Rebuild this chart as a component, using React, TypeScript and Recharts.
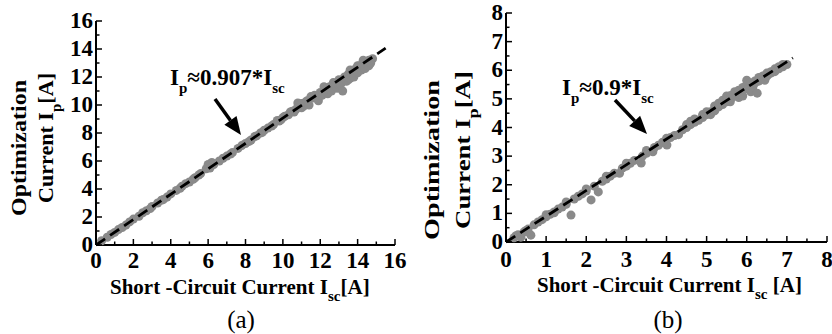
import { ScatterChart, Scatter, XAxis, YAxis, ZAxis } from "recharts";

const FONT = '"Liberation Serif", "Times New Roman", serif';
const GRAY = "#8a8a8a";

// (a) measured points
const iscA = [
  0.3, 0.6, 0.8, 1.0, 1.2, 1.4, 1.6, 1.8, 2.0, 2.3, 2.5, 2.7, 2.9, 3.0, 3.3,
  3.5, 3.6, 3.8, 4.0, 4.3, 4.5, 4.6, 4.8, 5.0, 5.2, 5.3, 5.5, 5.6, 5.9, 6.0,
  6.1, 6.2, 6.3, 6.6, 6.8, 7.0, 7.2, 7.3, 7.6, 7.8, 8.0, 8.2, 8.3, 8.5, 8.6,
  8.8, 8.9, 9.0, 9.2, 9.4, 9.5, 9.7, 9.8, 9.9, 10.0, 10.1, 10.3, 10.4, 10.5,
  10.6, 10.7, 10.8, 10.9, 11.0, 11.0, 11.1, 11.2, 11.3, 11.4, 11.5, 11.6,
  11.7, 11.8, 11.9, 12.0, 12.0, 12.1, 12.2, 12.3, 12.4, 12.5, 12.6, 12.7,
  12.8, 12.9, 13.0, 13.0, 13.1, 13.2, 13.3, 13.4, 13.5, 13.5, 13.6, 13.6,
  13.7, 13.8, 13.9, 14.0, 14.0, 14.1, 14.2, 14.3, 14.3, 14.4, 14.4, 14.5,
  14.6, 14.6, 14.7, 14.8,
];
const ipA = [
  0.3, 0.55, 0.75, 0.9, 1.1, 1.25, 1.42, 1.65, 1.85, 2.05, 2.3, 2.45, 2.6,
  2.75, 3.0, 3.2, 3.25, 3.42, 3.65, 3.9, 4.05, 4.2, 4.38, 4.5, 4.7, 4.8, 5.0,
  5.1, 5.45, 5.75, 5.5, 5.9, 5.75, 6.0, 6.2, 6.35, 6.5, 6.6, 6.9, 7.1, 7.25,
  7.4, 7.5, 7.75, 7.8, 8.0, 8.05, 8.2, 8.35, 8.5, 8.6, 8.9, 8.85, 8.95, 9.1,
  9.2, 9.3, 9.5, 9.55, 9.5, 9.7, 10.15, 9.85, 10.1, 9.8, 9.9, 10.2, 10.3,
  10.0, 10.6, 10.5, 10.7, 10.6, 10.3, 10.9, 10.7, 10.7, 11.3, 11.1, 10.8,
  11.3, 11.0, 11.6, 11.5, 11.2, 11.8, 11.4, 11.5, 11.0, 12.0, 11.7, 12.2,
  11.8, 11.9, 12.5, 12.3, 12.0, 12.6, 12.3, 12.8, 12.8, 12.5, 12.9, 13.2,
  12.6, 13.0, 13.1, 12.8, 13.2, 13.0, 13.3,
];
const fitIscA = [0, 15.5];
const fitIpA = [0, 14.06];

// (b) measured points
const iscB = [
  0.2, 0.25, 0.3, 0.37, 0.45, 0.5, 0.55, 0.62, 0.7, 0.8, 0.9, 1.0, 1.0, 1.1,
  1.2, 1.2, 1.3, 1.4, 1.5, 1.5, 1.62, 1.7, 1.8, 1.9, 2.0, 2.0, 2.12, 2.2,
  2.3, 2.4, 2.5, 2.5, 2.6, 2.7, 2.83, 2.9, 3.0, 3.0, 3.1, 3.2, 3.37, 3.4,
  3.5, 3.5, 3.66, 3.7, 3.8, 3.9, 4.0, 4.01, 4.1, 4.2, 4.3, 4.4, 4.5, 4.5,
  4.6, 4.6, 4.7, 4.7, 4.8, 4.9, 4.9, 5.0, 5.0, 5.1, 5.1, 5.2, 5.2, 5.2, 5.3,
  5.3, 5.4, 5.4, 5.5, 5.5, 5.5, 5.59, 5.6, 5.6, 5.7, 5.7, 5.8, 5.8, 5.8, 5.9,
  5.9, 6.0, 6.0, 6.0, 6.05, 6.1, 6.1, 6.15, 6.2, 6.2, 6.26, 6.3, 6.3, 6.4,
  6.4, 6.45, 6.5, 6.5, 6.53, 6.6, 6.6, 6.7, 6.7, 6.8, 6.8, 6.9, 6.9, 7.0,
];
const ipB = [
  0.15, 0.22, 0.25, 0.17, 0.35, 0.4, 0.45, 0.24, 0.6, 0.7, 0.78, 0.88, 0.95,
  0.97, 1.05, 1.02, 1.15, 1.22, 1.32, 1.4, 0.94, 1.5, 1.6, 1.68, 1.78, 1.85,
  1.47, 1.95, 1.75, 2.12, 2.2, 2.3, 2.3, 2.4, 2.4, 2.58, 2.65, 2.75, 2.75,
  2.85, 2.76, 3.0, 3.1, 3.2, 3.15, 3.3, 3.38, 3.48, 3.62, 3.39, 3.65, 3.72,
  3.75, 3.92, 4.0, 4.1, 4.1, 4.22, 4.18, 4.3, 4.25, 4.35, 4.45, 4.45, 4.55,
  4.45, 4.55, 4.58, 4.62, 4.75, 4.72, 4.85, 4.8, 4.95, 4.9, 5.05, 5.1, 4.9,
  5.0, 5.12, 5.1, 5.25, 5.05, 5.18, 5.3, 5.1, 5.4, 5.35, 5.5, 5.65, 5.42,
  5.25, 5.55, 5.4, 5.55, 5.62, 5.2, 5.62, 5.75, 5.7, 5.8, 5.65, 5.8, 5.9,
  5.84, 5.9, 5.95, 5.95, 6.05, 6.05, 6.12, 6.12, 6.2, 6.2,
];
const fitIscB = [0, 7.15];
const fitIpB = [0, 6.43];

const ticksA = [0, 1, 2, 3, 4, 5, 6, 7, 8, 9, 10, 11, 12, 13, 14, 15, 16];
const ticksB = [0, 0.5, 1, 1.5, 2, 2.5, 3, 3.5, 4, 4.5, 5, 5.5, 6, 6.5, 7, 7.5, 8];

const zip = (xs: number[], ys: number[]) => xs.map((x, i) => ({ x, y: ys[i] }));

const isMajor = (v: number, every: number) =>
  Math.abs(v / every - Math.round(v / every)) < 1e-6;

const makeXTick = (every: number, dy: number) => (props: any) => {
  const { x, y, payload } = props;
  const major = isMajor(payload.value, every);
  return (
    <g>
      <line x1={x} x2={x} y1={y} y2={y - (major ? 6 : 3.5)} stroke="#000" strokeWidth={1.5} />
      {major && (
        <text x={x} y={y + dy} textAnchor="middle" fontFamily={FONT} fontWeight="bold" fontSize={23} fill="#000">
          {payload.value}
        </text>
      )}
    </g>
  );
};

const makeYTick = (every: number) => (props: any) => {
  const { x, y, payload } = props;
  const major = isMajor(payload.value, every);
  return (
    <g>
      <line x1={x} x2={x + (major ? 6 : 3.5)} y1={y} y2={y} stroke="#000" strokeWidth={1.5} />
      {major && (
        <text x={x - 3} y={y + 7} textAnchor="end" fontFamily={FONT} fontWeight="bold" fontSize={23} fill="#000">
          {payload.value}
        </text>
      )}
    </g>
  );
};

const noShape = () => <g />;

const txt = { fontFamily: FONT, fontWeight: "bold" as const, fill: "#000" };

const YLabel = ({ x1, x2, cy, len1, len2 }: any) => (
  <g>
    <text
      transform={`translate(${x1},${cy}) rotate(-90)`}
      textAnchor="middle"
      fontSize={22}
      textLength={len1}
      lengthAdjust="spacingAndGlyphs"
      {...txt}
    >
      Optimization
    </text>
    <text
      transform={`translate(${x2},${cy - 10}) rotate(-90)`}
      textAnchor="middle"
      fontSize={22}
      textLength={len2}
      lengthAdjust="spacingAndGlyphs"
      {...txt}
    >
      <tspan>Current I</tspan>
      <tspan dy={8} fontSize={15}>p</tspan>
      <tspan dy={-8}>[A]</tspan>
    </text>
  </g>
);

const XLabel = ({ x, y, gap }: any) => (
  <text x={x} y={y} fontSize={21} {...txt}>
    <tspan>Short -Circuit Current I</tspan>
    <tspan dy={7} fontSize={15}>sc</tspan>
    <tspan dy={-7}>{gap ? " [A]" : "[A]"}</tspan>
  </text>
);

const Note = ({ x, y, k, ax1, ay1, ax2, ay2 }: any) => {
  const ang = Math.atan2(ay2 - ay1, ax2 - ax1);
  const L = 18;
  const W = 7.5;
  const bx = ax2 - L * Math.cos(ang);
  const by = ay2 - L * Math.sin(ang);
  const px = -Math.sin(ang) * W;
  const py = Math.cos(ang) * W;
  return (
    <g>
      <text x={x} y={y} fontSize={23} {...txt}>
        <tspan>I</tspan>
        <tspan dy={8} fontSize={15}>p</tspan>
        <tspan dy={-8}>{`≈${k}*I`}</tspan>
        <tspan dy={8} fontSize={15}>sc</tspan>
      </text>
      <line x1={ax1} y1={ay1} x2={bx} y2={by} stroke="#000" strokeWidth={3.5} />
      <polygon points={`${ax2},${ay2} ${bx + px},${by + py} ${bx - px},${by - py}`} fill="#000" />
    </g>
  );
};

const Caption = ({ x, label }: any) => (
  <text x={x} y={328} textAnchor="middle" fontFamily={FONT} fontSize={25} fill="#000">
    {label}
  </text>
);

export default function App() {
  return (
    <div style={{ position: "absolute", left: 0, top: 0, width: 832, height: 334, background: "#fff" }}>
      <div style={{ position: "absolute", left: 0, top: 0 }}>
        <ScatterChart width={410} height={334} margin={{ top: 21, right: 15, bottom: 59, left: 56 }}>
          <XAxis
            type="number"
            dataKey="x"
            domain={[0, 16]}
            ticks={ticksA}
            interval={0}
            height={30}
            tickSize={0}
            tickMargin={0}
            tickLine={false}
            tick={makeXTick(2, 23)}
            axisLine={{ stroke: "#000", strokeWidth: 2 }}
          />
          <YAxis
            type="number"
            dataKey="y"
            domain={[0, 16]}
            ticks={ticksA}
            interval={0}
            width={40}
            tickSize={0}
            tickMargin={0}
            tickLine={false}
            tick={makeYTick(2)}
            axisLine={{ stroke: "#000", strokeWidth: 2 }}
          />
          <ZAxis range={[50, 50]} />
          <Scatter data={zip(iscA, ipA)} fill={GRAY} isAnimationActive={false} />
          <Scatter
            data={zip(fitIscA, fitIpA)}
            line={{ stroke: "#000", strokeWidth: 2.8, strokeDasharray: "11 6" }}
            shape={noShape}
            isAnimationActive={false}
          />
          <YLabel x1={26} x2={53} cy={148} len1={136} len2={130} />
          <XLabel x={110} y={294} />
          <Note x={170} y={85} k="0.907" ax1={215} ay1={99} ax2={241} ay2={135} />
          <Caption x={241} label="(a)" />
        </ScatterChart>
      </div>
      <div style={{ position: "absolute", left: 420, top: 0 }}>
        <ScatterChart width={412} height={334} margin={{ top: 13, right: 5, bottom: 62, left: 46 }}>
          <XAxis
            type="number"
            dataKey="x"
            domain={[0, 8]}
            ticks={ticksB}
            interval={0}
            height={30}
            tickSize={0}
            tickMargin={0}
            tickLine={false}
            tick={makeXTick(1, 25)}
            axisLine={{ stroke: "#000", strokeWidth: 2 }}
          />
          <YAxis
            type="number"
            dataKey="y"
            domain={[0, 8]}
            ticks={ticksB}
            interval={0}
            width={40}
            tickSize={0}
            tickMargin={0}
            tickLine={false}
            tick={makeYTick(1)}
            axisLine={{ stroke: "#000", strokeWidth: 2 }}
          />
          <ZAxis range={[50, 50]} />
          <Scatter data={zip(iscB, ipB)} fill={GRAY} isAnimationActive={false} />
          <Scatter
            data={zip(fitIscB, fitIpB)}
            line={{ stroke: "#000", strokeWidth: 2.8, strokeDasharray: "11 6" }}
            shape={noShape}
            isAnimationActive={false}
          />
          <YLabel x1={19} x2={50} cy={160} len1={160} len2={158} />
          <XLabel x={117} y={292} gap />
          <Note x={142} y={95} k="0.9" ax1={195} ay1={100} ax2={227} ay2={134} />
          <Caption x={248} label="(b)" />
        </ScatterChart>
      </div>
    </div>
  );
}
